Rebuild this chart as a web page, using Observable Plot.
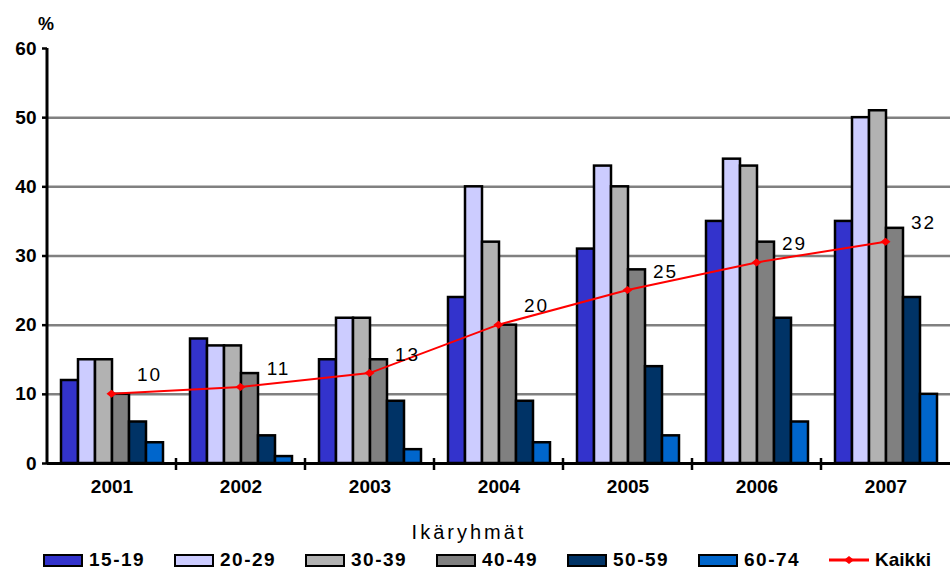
<!DOCTYPE html>
<html lang="fi">
<head>
<meta charset="utf-8">
<script src="https://cdn.jsdelivr.net/npm/d3@7"></script>
<script src="https://cdn.jsdelivr.net/npm/@observablehq/plot@0.6"></script>
<style>
  body { margin: 0; background: #fff; font-family: "Liberation Sans", Arial, sans-serif; }
  #chart { width: 951px; height: 569px; overflow: hidden; background: #fff; }
  .legend { position: relative; width: 951px; height: 64px; }
  .legend-title {
    position: absolute; left: 0; width: 938px; top: 16px; text-align: center;
    font-size: 20px; letter-spacing: 3px; color: #000;
  }
  .legend-items {
    position: absolute; left: 43px; top: 44px; display: flex; align-items: center;
  }
  .legend-item { display: flex; align-items: center; width: 131px; }
  .legend-swatch { width: 36px; height: 9px; border: 2px solid #000; margin-right: 6px; }
  .legend-label { font-size: 19px; font-weight: bold; letter-spacing: 1.5px; color: #000; }
  .legend-label.total { letter-spacing: 0; }
</style>
</head>
<body>
<div id="chart"></div>
<script>
// Share of each age group per year (%), with the all-ages total ("Kaikki")
const years = ["2001", "2002", "2003", "2004", "2005", "2006", "2007"];
const ageGroups = ["15-19", "20-29", "30-39", "40-49", "50-59", "60-74"];
const share1519 = [12, 18, 15, 24, 31, 35, 35];
const share2029 = [15, 17, 21, 40, 43, 44, 50];
const share3039 = [15, 17, 21, 32, 40, 43, 51];
const share4049 = [10, 13, 15, 20, 28, 32, 34];
const share5059 = [6, 4, 9, 9, 14, 21, 24];
const share6074 = [3, 1, 2, 3, 4, 6, 10];
const kaikki = [10, 11, 13, 20, 25, 29, 32];
const groupColors = ["#3333cc", "#ccccff", "#b2b2b2", "#808080", "#003366", "#0066cc"];
const yTicks = [0, 10, 20, 30, 40, 50, 60];
const unitLabel = "%";
const totalLabel = "Kaikki";
const legendTitle = "Ikäryhmät";

const series = [share1519, share2029, share3039, share4049, share5059, share6074];
const bars = years.flatMap((year, i) =>
  ageGroups.map((group, j) => ({year, group, value: series[j][i]}))
);
const totals = years.map((year, i) => ({year, value: kaikki[i]}));

// Draws the y-axis spine, unit label, year separator ticks and the red total line
function drawTotals(index, scales, values, dimensions) {
  const {marginLeft, marginTop, marginBottom, marginRight, width, height} = dimensions;
  const fx = scales.fx || d3.scaleBand(years, [marginLeft, width - marginRight]);
  const y = scales.y;
  const half = fx.bandwidth() / 2;
  const y0 = height - marginBottom;
  const g = d3.create("svg:g");

  g.append("path")
    .attr("d", `M${marginLeft},${marginTop}V${y0 + 1}`)
    .attr("stroke", "#000").attr("stroke-width", 3);
  g.append("text")
    .attr("x", marginLeft - 1).attr("y", marginTop - 24).attr("dy", "0.35em")
    .attr("text-anchor", "middle").attr("font-size", 18).attr("font-weight", "bold")
    .attr("fill", "#000").text(unitLabel);
  g.append("g").selectAll("path").data(years.slice(1)).join("path")
    .attr("d", (d) => `M${fx(d)},${y0 - 5}V${y0 + 7}`)
    .attr("stroke", "#000").attr("stroke-width", 2.5);

  const pts = totals.map((d) => ({x: fx(d.year) + half, y: y(d.value), v: d.value}));
  g.append("path")
    .attr("d", d3.line((p) => p.x, (p) => p.y)(pts))
    .attr("fill", "none").attr("stroke", "#ff0000").attr("stroke-width", 2);
  g.append("g").selectAll("path").data(pts).join("path")
    .attr("d", (p) => `M${p.x - 5},${p.y}L${p.x},${p.y - 4}L${p.x + 5},${p.y}L${p.x},${p.y + 4}Z`)
    .attr("fill", "#ff0000");
  g.append("g").selectAll("text").data(pts).join("text")
    .attr("x", (p) => p.x + 38).attr("y", (p) => p.y - 19)
    .attr("text-anchor", "middle").attr("dy", "0.35em")
    .attr("font-size", 19).attr("letter-spacing", 2).attr("fill", "#000")
    .text((p) => p.v);
  return g.node();
}

const plot = Plot.plot({
  width: 951,
  height: 505,
  marginTop: 48,
  marginRight: 0,
  marginBottom: 42,
  marginLeft: 45,
  style: {fontFamily: "'Liberation Sans', Arial, sans-serif", color: "#000", background: "#fff"},
  fx: {domain: years, padding: 0, label: null},
  x: {domain: ageGroups, paddingInner: 0, paddingOuter: 0.7, axis: null},
  y: {domain: [0, 60], label: null},
  color: {domain: ageGroups, range: groupColors},
  marks: [
    Plot.gridY(yTicks.filter((t) => t > 0 && t < 60), {stroke: "#808080", strokeOpacity: 1, strokeWidth: 2.5}),
    Plot.barY(bars, {fx: "year", x: "group", y: "value", fill: "group", stroke: "#000", strokeWidth: 2.5}),
    Plot.ruleY([0], {stroke: "#000", strokeWidth: 3}),
    Plot.axisY(yTicks, {tickSize: 5, tickPadding: 6, fontSize: 19, fontWeight: "bold", strokeWidth: 2.5}),
    Plot.axisFx({anchor: "bottom", tickSize: 0, tickPadding: 16, fontSize: 19, fontWeight: "bold", letterSpacing: 2.5}),
    Plot.frame({facet: "super", render: drawTotals})
  ]
});

const chart = document.getElementById("chart");
chart.append(plot);

// Legend below the plot
const legend = document.createElement("div");
legend.className = "legend";
const title = document.createElement("div");
title.className = "legend-title";
title.textContent = legendTitle;
legend.append(title);
const items = document.createElement("div");
items.className = "legend-items";
ageGroups.forEach((group, j) => {
  const item = document.createElement("div");
  item.className = "legend-item";
  const sw = document.createElement("div");
  sw.className = "legend-swatch";
  sw.style.background = groupColors[j];
  const lab = document.createElement("span");
  lab.className = "legend-label";
  lab.textContent = group;
  item.append(sw, lab);
  items.append(item);
});
const totalItem = document.createElement("div");
totalItem.className = "legend-item";
const lineSw = d3.create("svg").attr("width", 40).attr("height", 12).style("margin-right", "6px");
lineSw.append("line").attr("x1", 0).attr("x2", 40).attr("y1", 6).attr("y2", 6)
  .attr("stroke", "#ff0000").attr("stroke-width", 3);
lineSw.append("path").attr("d", "M15,6L20,2L25,6L20,10Z").attr("fill", "#ff0000");
const totalLab = document.createElement("span");
totalLab.className = "legend-label total";
totalLab.textContent = totalLabel;
totalItem.append(lineSw.node(), totalLab);
items.append(totalItem);
legend.append(items);
chart.append(legend);
</script>
</body>
</html>
